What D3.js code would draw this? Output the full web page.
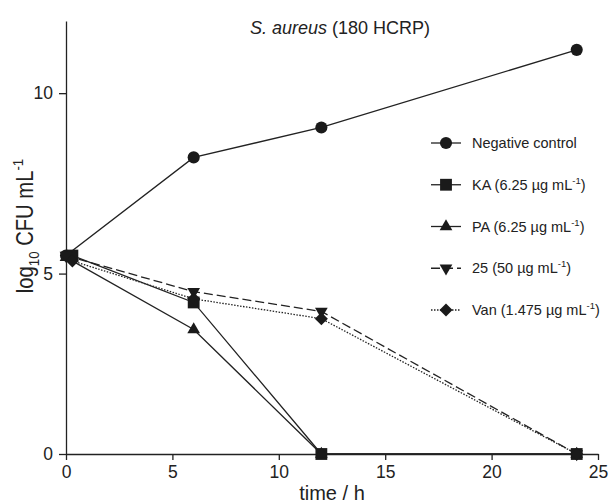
<!DOCTYPE html>
<html>
<head>
<meta charset="utf-8">
<script src="https://cdn.jsdelivr.net/npm/d3@7"></script>
<style>
  body { margin: 0; background: #fff; }
  svg { font-family: "Liberation Sans", Arial, sans-serif; }
</style>
</head>
<body>
<div id="chart"></div>
<script>
// time points (h) and log10 CFU/mL
var seriesNames = ['Negative control', 'KA', 'PA', '25', 'Van'];
var concLabels = ['', '6.25 \u00b5g mL', '6.25 \u00b5g mL', '50 \u00b5g mL', '1.475 \u00b5g mL'];
var timesNC = [0, 6, 12, 24];
var timesKA = [0.3, 6, 12, 24];
var timesPA = [0, 6, 12, 24];
var times25 = [0, 6, 12, 24];
var timesVan = [0.3, 6, 12, 24];
var valuesNC = [5.5, 8.22, 9.05, 11.2];
var valuesKA = [5.5, 4.2, 0, 0];
var valuesPA = [5.45, 3.45, 0, 0];
var values25 = [5.5, 4.5, 3.95, 0];
var valuesVan = [5.35, 4.3, 3.75, 0];
var xTicks = [0, 5, 10, 15, 20, 25];
var yTicks = [0, 5, 10];

var W = 611, H = 504;
var svg = d3.select('#chart').append('svg').attr('width', W).attr('height', H);

var x = d3.scaleLinear().domain([0, 25]).range([66, 598]);
var y = d3.scaleLinear().domain([0, 12]).range([454, 21]);

var symbols = [d3.symbolCircle, d3.symbolSquare, d3.symbolTriangle, d3.symbolTriangle, d3.symbolSquare];
var symSizes = [115, 140, 70, 70, 85];
var rotations = [0, 0, 0, 180, 45];
var dashes = [null, null, null, '9,4', '1.5,1.5'];

var series = [
  {t: timesNC, v: valuesNC},
  {t: timesKA, v: valuesKA},
  {t: timesPA, v: valuesPA},
  {t: times25, v: values25},
  {t: timesVan, v: valuesVan}
];

// axes
var xAxis = svg.append('g').attr('transform', 'translate(0,454)')
  .call(d3.axisBottom(x).tickValues(xTicks).tickSize(6).tickPadding(4).tickSizeOuter(0));
var yAxis = svg.append('g').attr('transform', 'translate(66,0)')
  .call(d3.axisLeft(y).tickValues(yTicks).tickSize(7).tickPadding(6).tickSizeOuter(0));
[xAxis, yAxis].forEach(function(a) {
  a.selectAll('path, line').attr('stroke', '#222').attr('stroke-width', 1.3);
  a.selectAll('text').attr('fill', '#222').style('font-size', '17.5px');
});
xAxis.selectAll('text').attr('dy', '0.8em');

var line = d3.line();

series.forEach(function(s, i) {
  var pts = s.t.map(function(t, j) { return [x(t), y(s.v[j])]; });
  svg.append('path')
    .attr('d', line(pts))
    .attr('fill', 'none')
    .attr('stroke', '#222')
    .attr('stroke-width', 1.3)
    .attr('stroke-dasharray', dashes[i]);
});

series.forEach(function(s, i) {
  svg.append('g').selectAll('path')
    .data(s.t.map(function(t, j) { return [x(t), y(s.v[j])]; }))
    .enter()
    .append('path')
    .attr('d', d3.symbol().type(symbols[i]).size(symSizes[i]))
    .attr('transform', function(d) { return 'translate(' + d[0] + ',' + d[1] + ') rotate(' + rotations[i] + ')'; })
    .attr('fill', '#1a1a1a');
});

// title
var title = svg.append('text').attr('x', 340).attr('y', 34).attr('text-anchor', 'middle')
  .style('font-size', '18px').attr('fill', '#222');
title.append('tspan').style('font-style', 'italic').text('S. aureus');
title.append('tspan').text(' (180 HCRP)');

// axis titles
svg.append('text').attr('x', 332).attr('y', 500).attr('text-anchor', 'middle')
  .style('font-size', '20px').attr('fill', '#222').text('time / h');

// y title is a bit narrow in the original, squeeze it along its length
var yl = svg.append('text').attr('transform', 'translate(33,226) rotate(-90) scale(0.88,1)')
  .attr('text-anchor', 'middle').style('font-size', '23px').attr('fill', '#222');
yl.append('tspan').text('log');
yl.append('tspan').attr('dy', 6).style('font-size', '15px').text('10');
yl.append('tspan').attr('dy', -6).text(' CFU mL');
yl.append('tspan').attr('dy', -10).style('font-size', '15px').text('-1');

// legend
var legY = d3.scalePoint().domain(seriesNames).range([143, 310]);
var leg = svg.append('g');
seriesNames.forEach(function(n, i) {
  var ly = legY(n);
  leg.append('line').attr('x1', 431).attr('x2', 461).attr('y1', ly).attr('y2', ly)
    .attr('stroke', '#222').attr('stroke-width', 1.3).attr('stroke-dasharray', dashes[i]);
  leg.append('path')
    .attr('d', d3.symbol().type(symbols[i]).size(symSizes[i]))
    .attr('transform', 'translate(446,' + ly + ') rotate(' + rotations[i] + ')')
    .attr('fill', '#1a1a1a');
  var t = leg.append('text').attr('x', 472).attr('y', ly + 5)
    .style('font-size', '14.5px').attr('fill', '#222');
  if (concLabels[i] === '') {
    t.text(n);
  } else {
    t.append('tspan').text(n + ' (' + concLabels[i]);
    t.append('tspan').attr('dy', -6).style('font-size', '9.5px').text('-1');
    t.append('tspan').attr('dy', 6).text(')');
  }
});
</script>
</body>
</html>
